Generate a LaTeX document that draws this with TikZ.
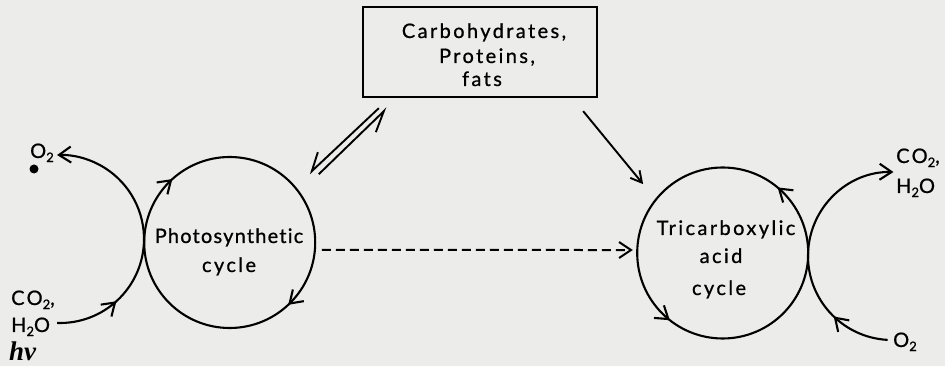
\documentclass[tikz,border=0pt]{standalone}
\usepackage{fontspec}
\setmainfont{Lato}[LetterSpace=12, Ligatures=NoCommon, FakeBold=0.8]
\newfontfamily\hvfont{Liberation Serif}
\usetikzlibrary{arrows.meta,decorations.markings,calc}
\definecolor{paper}{RGB}{236,236,234}
\newcommand{\lowtwo}{\raisebox{-0.4ex}{\fontsize{13}{13}\selectfont 2}}
\tikzset{
  lbl/.style={font=\fontsize{20}{22}\selectfont, inner sep=0pt, anchor=base},
  lbw/.style={lbl, anchor=base west},
  hvlbl/.style={font=\hvfont\bfseries\itshape\fontsize{27}{29}\selectfont, inner sep=0pt, anchor=base west},
  cycpath/.style={line width=2.1pt},
  midarrows/.style 2 args={postaction={decorate, decoration={markings,
      mark=at position #1 with {\arrow{Straight Barb[length=12pt,width=16pt,line width=2.1pt]}},
      mark=at position #2 with {\arrow{Straight Barb[length=12pt,width=16pt,line width=2.1pt]}}}}},
  midarrow/.style={postaction={decorate, decoration={markings,
      mark=at position #1 with {\arrow{Straight Barb[length=12pt,width=16pt,line width=2.1pt]}}}}},
  endtip/.style={-{Straight Barb[length=12pt,width=16pt]}},
}
\begin{document}
\begin{tikzpicture}[x=1pt,y=1pt]
\fill[paper] (0,0) rectangle (945,366);
\useasboundingbox (0,0) rectangle (945,366);

% box
\node[draw, line width=2.3pt, minimum width=234pt, minimum height=90pt, inner sep=0] (box) at (480,314) {};
\node[lbl] (t1) at (484,328) {Carbohydrates,};
\node[lbl] (t2) at (487,303) {Proteins,};
\node[lbl] (t3) at (482,280) {fats};

% cycles
\node[circle, minimum size=171pt, inner sep=0] (photo) at (229.5,123.5) {};
\node[circle, minimum size=171pt, inner sep=0] (tri) at (722.5,113) {};
\draw[cycpath, midarrows={0.13}{0.633}] (photo.0) arc[start angle=0, end angle=-360, radius=85.5];
\draw[cycpath, midarrows={0.139}{0.644}] (tri.0) arc[start angle=0, end angle=360, radius=85.5];

\node[lbl] (p1) at (229,123) {\addfontfeature{LetterSpace=6}Photosynthetic};
\node[lbl] (p2) at (229,94) {cycle};
\node[lbl] (r1) at (726,131) {Tricarboxylic};
\node[lbl] (r2) at (721,103) {acid};
\node[lbl] (r3) at (719,71) {cycle};

% left side labels
\node[lbw] (lco2) at (11,61) {CO\lowtwo,};
\node[lbw] (lh2o) at (11,34) {H\lowtwo O};
\node[hvlbl] (hv) at (9,5) {hν};
\node[lbw] (lo2) at (30,208) {O\lowtwo};
\fill (34,197) circle[radius=4.5pt];

% right side labels
\node[lbw] (rco2) at (896,203) {CO\lowtwo,};
\node[lbw] (rh2o) at (896,173) {H\lowtwo O};
\node[lbw] (ro2) at (893,19) {O\lowtwo};

% left arc
\coordinate (lc) at (60,127);
\draw[cycpath, midarrow=0.24, endtip]
  ($(lc)+(-92:84)$) arc[start angle=-92, end angle=92, radius=84];
% right arc
\coordinate (rc) at (892,110);
\draw[cycpath, midarrow=0.23, endtip]
  ($(rc)+(-93:84)$) arc[start angle=-93, end angle=-271, radius=84];

% dashed arrow
\draw[line width=2pt, dash pattern=on 9pt off 5pt, endtip,
  shorten <=7pt, shorten >=4pt] (photo.-5) -- (tri.178);

% harpoons between box and photosynthetic cycle
\coordinate (ha1) at ($(box.south west)+(17,-10)$);
\coordinate (ha2) at ($(box.south west)+(-50,-73)$);
\coordinate (hb1) at ($(box.south west)+(-43,-76)$);
\coordinate (hb2) at ($(box.south west)+(22,-13)$);
\draw[line width=1.9pt, line join=miter] (ha1) -- (ha2) -- ++(6,19);
\draw[line width=1.9pt, line join=miter] (hb1) -- (hb2) -- ++(-8,-21);

% arrow to tricarboxylic cycle
\coordinate (ra1) at ($(box.south east)+(-15,-13)$);
\coordinate (ra2) at ($(box.south east)+(45,-86)$);
\draw[line width=1.9pt, -{Straight Barb[length=11pt,width=12pt]}] (ra1) -- (ra2);
\end{tikzpicture}
\end{document}
